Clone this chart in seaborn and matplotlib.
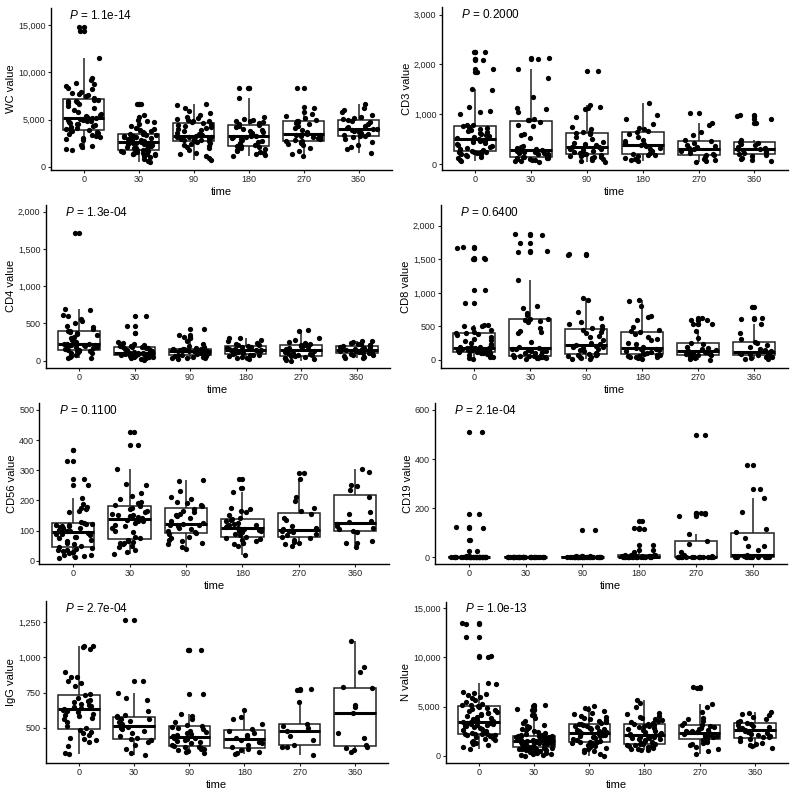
import numpy as np
import pandas as pd
import matplotlib
matplotlib.use("Agg")
import matplotlib.pyplot as plt
import seaborn as sns
from matplotlib.ticker import FuncFormatter

TIMES = ["0", "30", "90", "180", "270", "360"]

# values per time point (one list per time)
wc_values = [
    [1800, 1900, 2100, 2200, 2300, 2800, 2900, 3000, 3100, 3300, 3400, 3500, 3600, 3700, 3800, 3900,
     3950, 4000, 4100, 4200, 4300, 4400, 4500, 4500, 4600, 4700, 4800, 4900, 4950, 5000, 5100, 5150,
     5200, 5300, 5400, 5500, 5600, 5800, 6000, 6200, 6400, 6600, 6800, 6900, 7000, 7000, 7100, 7100,
     7300, 7500, 7600, 7700, 7800, 7900, 8200, 8400, 8600, 8800, 8900, 9200, 9400, 11500, 14400, 14800],
    [500, 600, 800, 1000, 1100, 1200, 1300, 1300, 1400, 1400, 1500, 1500, 1550, 1600, 1650, 1700,
     1750, 1800, 1900, 2000, 2000, 2100, 2200, 2200, 2300, 2300, 2400, 2400, 2450, 2500, 2500, 2550,
     2600, 2650, 2700, 2800, 2800, 2900, 3000, 3000, 3100, 3100, 3200, 3300, 3300, 3400, 3400, 3450,
     3500, 3600, 3700, 3800, 3900, 4000, 4100, 4300, 4500, 4700, 4800, 5000, 5300, 5500, 6600, 6650],
    [700, 900, 1100, 1300, 1500, 1800, 2000, 2100, 2200, 2300, 2400, 2500, 2650,
     2700, 2750, 2800, 2800, 2850, 2900, 2950, 3000, 3000, 3050, 3100, 3150, 3200,
     3300, 3400, 3500, 3600, 3800, 3900, 4000, 4100, 4200, 4300, 4400, 4500, 4650,
     4700, 4800, 4900, 5000, 5100, 5200, 5300, 5500, 5700, 5900, 6200, 6500, 6700],
    [1100, 1200, 1300, 1500, 1600, 1700, 1800, 1900, 2000, 2100, 2150,
     2200, 2300, 2500, 2600, 2700, 2800, 2900, 3000, 3100, 3200, 3300,
     3300, 3400, 3500, 3600, 3700, 3800, 3900, 4000, 4200, 4300, 4450,
     4500, 4600, 4700, 4800, 4900, 5000, 5100, 5300, 7300, 8300, 8350],
    [1100, 1300, 1700, 2000, 2300, 2400, 2500, 2600, 2700,
     2750, 2800, 2900, 3000, 3100, 3200, 3300, 3350, 3400,
     3500, 3700, 3900, 4100, 4300, 4500, 4600, 4700, 4800,
     4900, 5000, 5200, 5400, 5600, 5800, 6200, 6300, 8400],
    [1500, 1900, 2100, 2300, 2600, 2900, 3100, 3250,
     3300, 3400, 3500, 3600, 3700, 3800, 3900, 3950,
     4050, 4100, 4200, 4300, 4500, 4700, 4800, 4950,
     5050, 5200, 5300, 5500, 5800, 6000, 6200, 6600],
]

cd3_values = [
    [60, 80, 120, 150, 170, 190, 200, 210, 220, 230, 240, 240, 245, 250,
     260, 280, 300, 320, 340, 360, 380, 400, 420, 440, 460, 470, 480, 490,
     510, 520, 540, 560, 580, 600, 620, 640, 660, 680, 700, 720, 740, 760,
     780, 790, 1000, 1050, 1060, 1150, 1480, 1500, 1850, 1900, 2080, 2100, 2250, 2260],
    [50, 60, 70, 80, 90, 100, 110, 120, 125, 130, 135,
     145, 160, 180, 200, 210, 220, 230, 240, 250, 260, 270,
     290, 300, 320, 340, 360, 530, 580, 600, 770, 780, 850,
     880, 890, 900, 1050, 1100, 1120, 1340, 1720, 1900, 2100, 2120],
    [50, 60, 80, 100, 120, 140, 150, 160, 170, 185,
     195, 200, 220, 240, 260, 280, 300, 310, 320, 335,
     345, 360, 380, 400, 420, 450, 500, 550, 600, 620,
     640, 650, 700, 750, 940, 1110, 1130, 1150, 1180, 1870],
    [60, 80, 100, 130, 160, 175, 185,
     200, 230, 260, 300, 330, 360, 380,
     400, 430, 460, 480, 550, 600, 640,
     660, 700, 730, 800, 900, 980, 1220],
    [50, 70, 90, 110, 150, 175,
     185, 200, 230, 260, 290, 300,
     320, 340, 360, 380, 420, 460,
     480, 580, 640, 780, 820, 1030],
    [60, 80, 100, 130, 160, 185,
     200, 220, 240, 260, 280, 295,
     305, 320, 350, 380, 410, 430,
     450, 480, 820, 900, 960, 990],
]

cd4_values = [
    [30, 40, 50, 60, 80, 100, 110, 115, 120, 125, 130, 135,
     145, 150, 160, 170, 180, 190, 195, 200, 205, 210, 215, 218,
     222, 230, 250, 260, 280, 300, 320, 340, 360, 370, 380, 395,
     405, 420, 450, 470, 500, 530, 560, 600, 620, 680, 690, 1720],
    [15, 20, 30, 40, 45, 50, 55, 60, 62, 65, 68,
     72, 75, 78, 80, 85, 88, 90, 92, 95, 97, 99,
     101, 105, 110, 120, 130, 140, 150, 160, 170, 175, 182,
     188, 190, 195, 200, 210, 220, 240, 250, 370, 470, 600],
    [20, 30, 35, 40, 45, 50, 55, 60, 65, 72,
     78, 85, 90, 100, 105, 110, 115, 120, 125, 128,
     132, 135, 138, 140, 145, 148, 150, 152, 155, 158,
     162, 170, 180, 200, 230, 260, 300, 320, 340, 420],
    [20, 30, 40, 50, 60, 70, 78, 83,
     90, 100, 110, 115, 120, 125, 130, 137,
     143, 150, 155, 160, 170, 180, 190, 200,
     210, 215, 220, 240, 260, 280, 300, 310],
    [0, 10, 20, 30, 40, 50, 60, 68,
     72, 80, 90, 100, 110, 120, 130,
     150, 160, 170, 180, 190, 200, 205,
     215, 230, 240, 250, 280, 300, 400, 410],
    [30, 40, 50, 60, 70, 80, 90, 98,
     105, 110, 120, 125, 130, 135, 142,
     148, 155, 160, 170, 180, 190, 198,
     205, 210, 220, 230, 240, 245, 260, 270],
]

cd8_values = [
    [20, 30, 40, 50, 60, 70, 80, 90, 100, 105, 110, 112, 115, 118, 120,
     125, 130, 135, 140, 145, 150, 152, 155, 158, 160, 163, 166, 169, 172, 174,
     178, 182, 188, 195, 200, 220, 240, 260, 280, 300, 320, 350, 370, 380, 395,
     405, 420, 450, 480, 500, 510, 520, 525, 850, 1040, 1500, 1510, 1520, 1670, 1680],
    [20, 25, 30, 35, 40, 42, 45, 48, 50, 55, 58,
     65, 70, 80, 100, 110, 120, 130, 140, 150, 160, 170,
     180, 200, 270, 400, 420, 430, 480, 560, 580, 600, 605,
     615, 670, 700, 770, 800, 1190, 1610, 1620, 1740, 1870, 1880],
    [10, 20, 30, 40, 50, 60, 70, 75, 80, 85,
     95, 110, 130, 150, 170, 180, 190, 200, 210, 215,
     225, 240, 260, 300, 340, 360, 400, 420, 440, 455,
     470, 500, 540, 570, 620, 720, 890, 930, 1570, 1580],
    [20, 30, 40, 45, 50, 55, 60, 70, 78,
     85, 100, 110, 120, 140, 150, 160, 170, 175,
     185, 200, 240, 260, 300, 310, 340, 380, 415,
     425, 440, 490, 600, 640, 660, 800, 880, 890],
    [0, 20, 30, 40, 50, 60, 70, 78,
     85, 95, 100, 110, 115, 120, 125,
     135, 140, 150, 160, 180, 200, 240,
     250, 330, 430, 530, 540, 590, 600, 620],
    [10, 20, 30, 40, 50, 60, 72,
     85, 95, 100, 110, 115, 120,
     130, 150, 170, 190, 220, 250,
     270, 320, 400, 530, 610, 620, 790],
]

cd56_values = [
    [10, 12, 15, 18, 20, 25, 28, 30, 32, 35, 37, 40, 41,
     45, 50, 55, 60, 65, 70, 75, 78, 80, 85, 88, 90, 93,
     97, 100, 103, 105, 108, 110, 112, 114, 116, 118, 120, 122, 123,
     125, 128, 160, 165, 170, 175, 178, 188, 208, 250, 270, 330, 368],
    [22, 30, 35, 45, 50, 55, 58, 60, 62, 65, 68,
     75, 80, 95, 100, 110, 115, 120, 125, 130, 133, 136,
     140, 145, 148, 150, 152, 155, 160, 165, 170, 175, 180,
     185, 190, 195, 205, 215, 225, 250, 255, 305, 383, 428],
    [38, 45, 55, 60, 65, 70, 75, 80, 88,
     92, 95, 100, 105, 110, 115, 118, 120, 122,
     124, 130, 140, 148, 152, 155, 160, 165, 173,
     180, 185, 190, 195, 205, 210, 230, 265, 268],
    [20, 50, 55, 58, 60, 65, 70, 72, 76,
     80, 85, 90, 95, 98, 100, 103, 106, 108,
     112, 115, 118, 120, 122, 125, 130, 135, 138,
     142, 150, 160, 165, 170, 175, 228, 242, 270],
    [50, 55, 58, 62, 70, 76,
     80, 85, 90, 95, 98, 100,
     104, 110, 115, 135, 140, 155,
     165, 175, 198, 212, 270, 292],
    [46, 58, 60, 65, 95,
     100, 105, 110, 115, 122,
     128, 130, 155, 160, 210,
     235, 248, 252, 295, 303],
]

cd19_values = [
    [0, 0, 0, 0, 0, 0, 0, 0, 0, 0,
     0, 0, 0, 0, 0, 0, 0, 0, 0, 0,
     0, 0, 0, 0, 0, 0, 0, 0, 0, 0,
     0, 0, 0, 0, 3, 5, 25, 70, 120, 125, 175, 510],
    [0, 0, 0, 0, 0, 0, 0, 0, 0, 0,
     0, 0, 0, 0, 0, 0, 0, 0, 0, 0,
     0, 0, 0, 0, 0, 0, 0, 0, 0, 0,
     0, 0, 0, 0],
    [0, 0, 0, 0, 0, 0, 0, 0, 0, 0,
     0, 0, 0, 0, 0, 0, 0, 0, 0, 0,
     0, 0, 0, 0, 0, 0, 0, 0, 3, 5, 6, 113],
    [0, 0, 0, 0, 0, 0, 0, 0, 0, 0, 0, 0, 0, 0,
     1, 2, 2, 3, 3, 4, 5, 5, 6, 7, 8, 8, 9, 10,
     20, 30, 50, 115, 120, 148],
    [0, 0, 0, 0, 0, 0, 0, 0, 0, 0, 0, 0, 0, 0,
     3, 5, 8, 20, 55, 68, 97, 170, 175, 180, 182, 497],
    [0, 0, 0, 0, 0, 0, 0, 0,
     2, 3, 6, 10, 30, 45, 48, 80, 104, 115, 185, 240, 280, 375],
]

igg_values = [
    [310, 320, 370, 400, 410, 420, 430, 450, 460, 470, 485,
     495, 510, 540, 560, 570, 580, 590, 600, 610, 620, 625,
     635, 640, 650, 655, 660, 670, 680, 690, 700, 715, 730,
     740, 800, 820, 830, 860, 860, 895, 1060, 1075, 1080, 1085],
    [305, 320, 350, 380, 400, 410, 415, 418,
     425, 440, 460, 480, 490, 500, 505,
     515, 530, 540, 550, 560, 565, 575,
     580, 590, 620, 700, 710, 750, 835, 1265],
    [320, 330, 335, 340, 345, 350, 355, 360, 366,
     372, 380, 390, 400, 405, 410, 420, 425, 430,
     440, 450, 455, 460, 470, 480, 490, 500, 508,
     512, 520, 540, 560, 580, 595, 740, 1050, 1055],
    [310, 320, 330, 340, 352,
     360, 380, 390, 400, 412,
     424, 440, 450, 465, 478,
     490, 530, 565, 575, 625],
    [305, 360, 365, 375, 410, 440, 478, 500, 515, 528, 680, 770, 775],
    [330, 340, 355, 365, 375, 430, 460, 605, 650, 660, 780, 790, 895, 935, 1115],
]

n_values = [
    [650, 900, 1100, 1200, 1300, 1400, 1500, 1600, 1700, 1800, 1900, 2000, 2050, 2100, 2150, 2200, 2220, 2240,
     2260, 2300, 2400, 2500, 2600, 2700, 2800, 2900, 3000, 3050, 3100, 3150, 3200, 3250, 3300, 3350, 3400, 3430,
     3470, 3500, 3600, 3700, 3800, 3900, 4000, 4100, 4200, 4300, 4400, 4500, 4600, 4700, 4800, 4900, 5000, 5080,
     5150, 5200, 5300, 5500, 5700, 5900, 6000, 6200, 6300, 6400, 6500, 7300, 7400, 10100, 10150, 12050, 13400, 13500],
    [0, 50, 100, 150, 200, 250, 300, 350, 400, 450, 500, 550, 600, 650, 700, 720, 750, 780, 800, 830,
     860, 900, 950, 1000, 1050, 1100, 1150, 1180, 1200, 1230, 1260, 1290, 1320, 1350, 1370, 1390, 1410, 1420, 1430, 1440,
     1460, 1480, 1500, 1550, 1600, 1630, 1660, 1700, 1730, 1760, 1800, 1830, 1860, 1900, 1930, 1960, 1990, 2010, 2030, 2040,
     2080, 2150, 2200, 2300, 2400, 2500, 2600, 2700, 2800, 2900, 3000, 3100, 3300, 3500, 3800, 4100, 4700, 4800, 5100, 5150],
    [0, 200, 350, 500, 600, 700, 800, 900, 1000, 1100, 1200, 1250, 1300, 1350, 1380,
     1420, 1500, 1600, 1700, 1800, 1900, 1950, 2000, 2050, 2100, 2150, 2200, 2250, 2300, 2330,
     2370, 2400, 2450, 2500, 2550, 2600, 2700, 2750, 2800, 2850, 2900, 3000, 3050, 3100, 3180,
     3250, 3300, 3400, 3500, 3600, 3700, 3800, 3900, 4000, 4200, 4400, 4600, 4800, 4900, 5100],
    [550, 600, 650, 700, 750, 800, 850, 900, 950, 1000, 1050, 1100, 1150, 1180,
     1220, 1300, 1400, 1500, 1600, 1700, 1750, 1800, 1850, 1900, 1950, 2000, 2050, 2080,
     2120, 2200, 2300, 2400, 2500, 2600, 2700, 2800, 2900, 3000, 3050, 3100, 3150, 3180,
     3250, 3300, 3400, 3500, 3600, 3700, 3800, 3900, 4000, 4200, 4400, 5000, 5400, 5700],
    [150, 500, 700, 900, 1100, 1200, 1300, 1400, 1500, 1600,
     1680, 1800, 1900, 2000, 2050, 2100, 2150, 2200, 2250, 2300,
     2400, 2450, 2500, 2550, 2600, 2700, 2800, 2900, 3000, 3080,
     3150, 3300, 3500, 3700, 3800, 4500, 5000, 5250, 6900, 6950],
    [800, 1000, 1100, 1200, 1300, 1500, 1700, 1820,
     1860, 1950, 2050, 2150, 2250, 2350, 2450, 2550,
     2650, 2700, 2800, 2900, 3000, 3100, 3200, 3300,
     3400, 3500, 3700, 3900, 4100, 4200, 4300, 4500],
]

y_labels = ["WC value", "CD3 value", "CD4 value", "CD8 value",
            "CD56 value", "CD19 value", "IgG value", "N value"]
p_labels = ["1.1e-14", "0.2000", "1.3e-04", "0.6400",
            "0.1100", "2.1e-04", "2.7e-04", "1.0e-13"]
all_values = [wc_values, cd3_values, cd4_values, cd8_values,
              cd56_values, cd19_values, igg_values, n_values]

# axis settings per panel
y_limits = [(-350, 16800), (-120, 3160), (-94, 2090), (-115, 2310),
            (-11, 522), (-27, 627), (251, 1402), (-710, 15680)]
y_ticks = [[0, 5000, 10000, 15000], [0, 1000, 2000, 3000],
           [0, 500, 1000, 1500, 2000], [0, 500, 1000, 1500, 2000],
           [0, 100, 200, 300, 400, 500], [0, 200, 400, 600],
           [500, 750, 1000, 1250], [0, 5000, 10000, 15000]]
# panel rectangles in pixels: left, top, right, bottom
panel_px = [(50.7, 8.3, 391.7, 170), (441.7, 6.7, 788, 170),
            (45.7, 205, 390, 367.7), (440.7, 205, 788, 367.7),
            (39.3, 403.3, 389, 564), (435, 403.3, 786.7, 564),
            (45.7, 601, 388, 762.7), (445.7, 601.7, 788, 762.7)]

W, H = 795, 792

sns.set_style("ticks")
plt.rcParams["font.family"] = ["Liberation Sans", "DejaVu Sans"]
plt.rcParams["mathtext.fontset"] = "custom"
plt.rcParams["mathtext.it"] = "Liberation Sans:italic"
plt.rcParams["mathtext.rm"] = "Liberation Sans"

np.random.seed(11)
fig = plt.figure(figsize=(W / 100, H / 100), dpi=100)
line_col = "#222222"

for i in range(8):
    l, t, r, b = panel_px[i]
    ax = fig.add_axes([l / W, 1 - b / H, (r - l) / W, (b - t) / H])
    groups = all_values[i]
    frame = pd.DataFrame({
        "time": [tm for tm, vals in zip(TIMES, groups) for _ in vals],
        "value": [v for vals in groups for v in vals],
    })

    sns.boxplot(data=frame, x="time", y="value", order=TIMES, ax=ax,
                width=0.75, color="white", linecolor=line_col, linewidth=1.1,
                showcaps=False, fliersize=3.8,
                flierprops=dict(marker="o", markerfacecolor="black",
                                markeredgecolor="black", markeredgewidth=0),
                medianprops=dict(linewidth=2.2, color="black"))
    sns.stripplot(data=frame, x="time", y="value", order=TIMES, ax=ax,
                  color="black", size=3.8, jitter=0.33, linewidth=0, zorder=4)

    ax.set_xlim(-0.6, 5.6)
    ax.set_ylim(*y_limits[i])
    ax.set_yticks(y_ticks[i])
    ax.yaxis.set_major_formatter(FuncFormatter(lambda v, _: f"{v:,.0f}"))
    ax.set_xlabel("time", fontsize=8, color="black", labelpad=2)
    ax.set_ylabel(y_labels[i], fontsize=8, color="black", labelpad=1.5)
    ax.tick_params(axis="both", labelsize=6.5, colors="#222222",
                   length=2.2, width=0.8, pad=1.5)
    for s in ["left", "bottom"]:
        ax.spines[s].set_linewidth(1.0)
        ax.spines[s].set_color("black")
    sns.despine(ax=ax)

    ax.text(0.055, 0.955, r"$\mathit{P}$ = " + p_labels[i], transform=ax.transAxes,
            fontsize=8.5, va="center", ha="left", color="black")

fig.savefig("out.png", dpi=100)
